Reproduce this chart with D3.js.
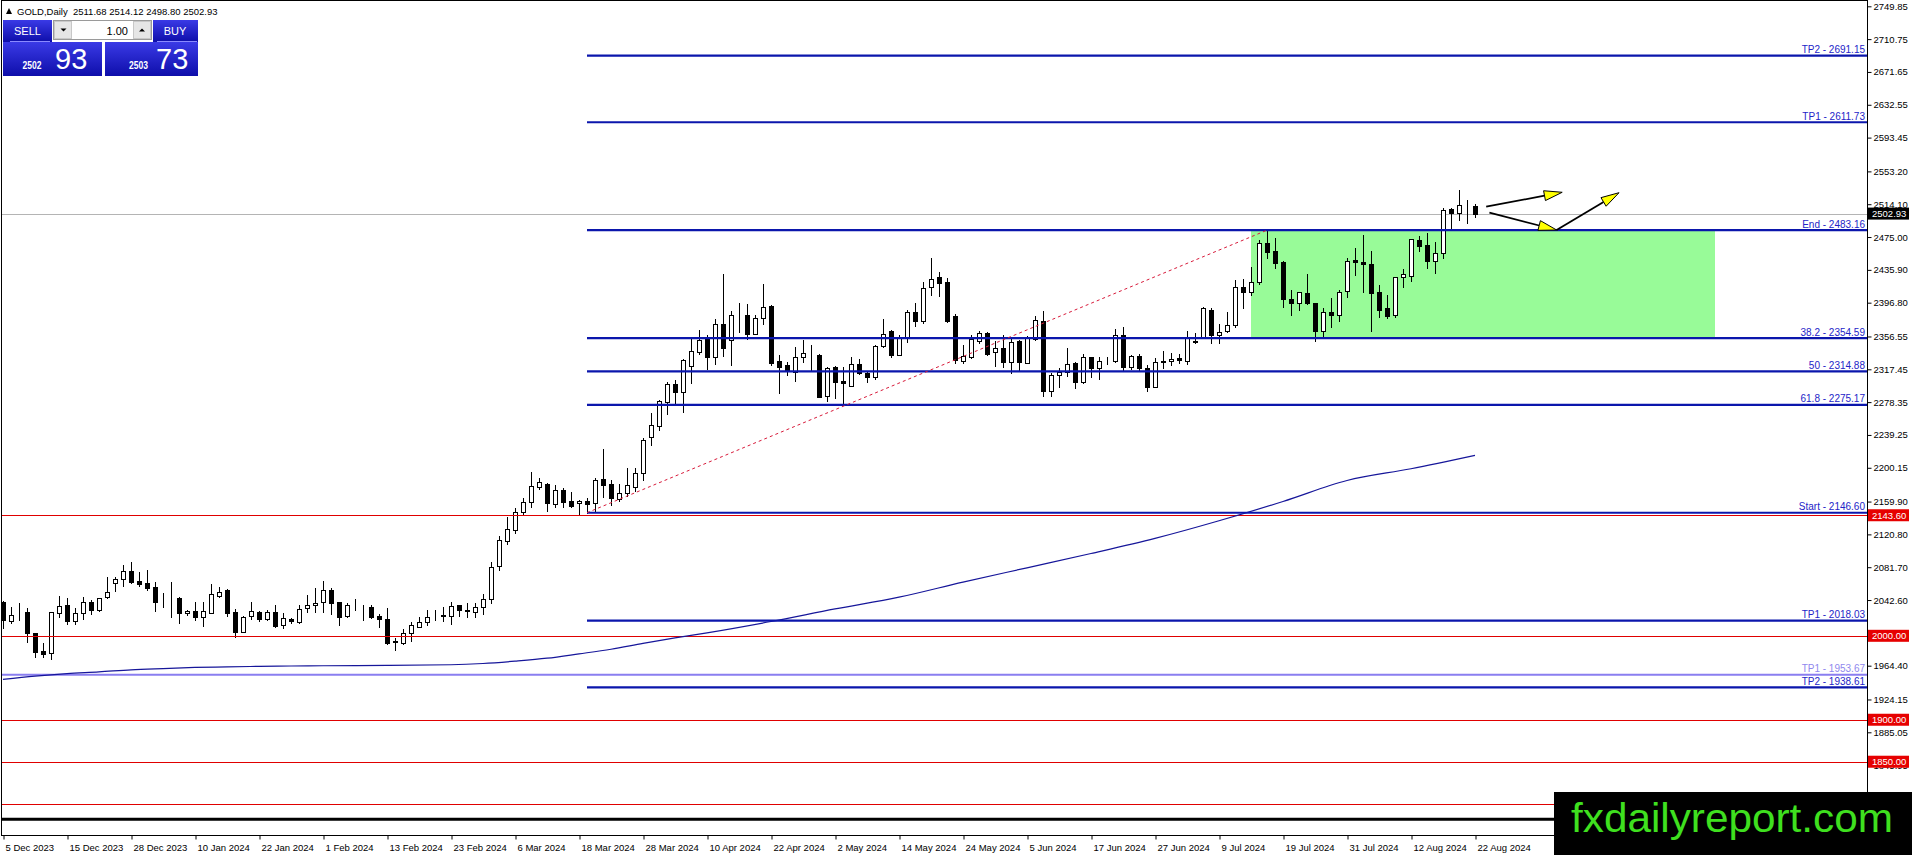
<!DOCTYPE html>
<html><head><meta charset="utf-8">
<script src="https://cdn.jsdelivr.net/npm/d3@7"></script>
<style>
html,body{margin:0;padding:0;background:#fff;overflow:hidden}
svg{display:block}
text{font-family:"Liberation Sans",Arial,sans-serif}
</style></head><body>
<svg id="c" width="1912" height="855"></svg>
<script>
// ---------- DATA ----------
const symbolTitle = "GOLD,Daily";
const headerOHLC = ["2511.68","2514.12","2498.80","2502.93"];
const opens = [2040.6,2017.6,2026.5,2027.9,2002.9,1981.9,1979.1,2026.7,2036.7,2018.0,2026.7,2039.8,2030.7,2045.8,2062.5,2067.2,2077.2,2065.3,2062.5,2058.5,
2041.8,2044.4,2044.6,2026.7,2029.5,2022.8,2027.5,2047.8,2054.5,2027.9,2004.9,2023.6,2027.9,2020.0,2028.7,2012.8,2019.6,2016.8,2032.7,2036.3,
2039.8,2054.5,2039.8,2023.9,2034.8,2034.8,2034.7,2023.9,2020.0,1993.4,1991.0,2002.9,2010.9,2016.8,2023.6,2024.2,2023.6,2036.7,2030.3,2028.7,
2034.7,2043.4,2083.5,2113.3,2126.0,2147.9,2159.0,2176.8,2180.8,2157.0,2173.7,2160.6,2157.8,2160.8,2157.8,2186.4,2180.8,2162.5,2170.5,2177.6,
2193.5,2237.2,2250.3,2278.9,2299.9,2290.0,2321.7,2337.6,2354.3,2332.5,2371.0,2352.3,2382.4,2382.1,2359.9,2378.1,2392.8,2327.3,2322.2,2313.8,
2331.7,2334.6,2334.5,2286.0,2319.8,2303.5,2297.9,2323.3,2312.6,2308.7,2345.2,2363.4,2334.5,2356.3,2386.1,2375.4,2415.9,2427.0,2421.0,2380.9,
2327.7,2331.7,2351.5,2360.3,2337.6,2342.4,2326.5,2351.5,2325.3,2353.1,2374.9,2291.9,2310.6,2314.6,2325.3,2302.7,2331.7,2318.6,2327.3,2327.7,
2358.3,2320.6,2333.7,2318.6,2296.7,2326.5,2327.7,2330.5,2327.7,2350.3,2356.3,2388.1,2358.3,2363.4,2370.2,2415.8,2409.9,2421.8,2468.3,2458.3,
2445.6,2401.2,2396.0,2407.9,2396.0,2363.4,2386.1,2382.1,2410.7,2447.6,2445.6,2442.9,2409.1,2390.0,2382.1,2427.0,2428.6,2471.4,2465.5,2446.8,
2455.6,2508.0,2503.2,2512.4,2511.68];
const highs = [2041.5,2034.7,2038.7,2032.7,2003.5,1991.0,2028.5,2047.4,2045.4,2032.7,2045.8,2042.6,2045.4,2070.4,2070.4,2084.3,2087.5,2075.6,2078.4,2064.5,
2050.6,2063.7,2046.6,2030.7,2040.6,2040.6,2061.7,2058.5,2055.3,2031.5,2023.2,2039.8,2029.5,2030.7,2036.7,2026.7,2020.8,2036.7,2048.6,2056.5,
2065.3,2056.5,2040.6,2038.6,2043.8,2036.7,2036.7,2025.9,2033.5,1996.9,2008.1,2016.8,2022.8,2030.7,2030.7,2034.7,2040.6,2037.0,2039.4,2039.4,
2049.4,2088.3,2118.9,2141.9,2152.6,2163.7,2195.5,2187.6,2181.6,2179.6,2175.7,2171.7,2161.8,2163.7,2187.6,2222.5,2185.6,2180.8,2199.5,2199.5,
2235.2,2264.9,2280.9,2302.7,2304.7,2329.7,2354.3,2364.2,2358.3,2376.9,2430.9,2387.3,2396.8,2395.2,2382.1,2418.6,2394.0,2334.5,2326.5,2343.6,
2352.3,2346.4,2335.3,2320.6,2321.4,2320.6,2332.5,2329.3,2314.6,2346.4,2377.3,2364.2,2358.3,2388.1,2396.8,2421.8,2450.4,2432.9,2425.8,2383.3,
2346.4,2358.3,2363.4,2361.9,2351.5,2358.3,2354.3,2352.3,2357.1,2380.9,2387.3,2313.4,2318.6,2342.4,2326.5,2335.6,2332.5,2332.5,2331.7,2365.0,
2367.4,2334.5,2335.6,2322.5,2330.5,2339.4,2337.2,2335.6,2363.4,2360.3,2392.0,2390.8,2371.0,2385.3,2423.8,2424.6,2438.9,2471.4,2483.4,2473.4,
2446.0,2411.9,2409.9,2430.5,2396.8,2390.0,2401.9,2411.9,2449.6,2461.5,2477.4,2458.3,2417.8,2405.9,2427.8,2436.5,2472.6,2476.2,2480.2,2468.7,
2509.2,2509.2,2531.0,2519.1,2514.12];
const lows = [2008.9,2015.6,2018.8,1993.0,1975.1,1975.1,1972.3,2022.8,2014.0,2014.0,2020.0,2025.9,2029.9,2045.4,2053.7,2059.7,2063.0,2059.3,2054.5,2029.9,
2034.7,2022.8,2015.6,2025.2,2018.8,2011.6,2027.0,2045.8,2023.6,1998.1,2004.1,2019.6,2018.0,2018.8,2010.0,2008.9,2014.8,2015.8,2028.7,2028.7,
2028.7,2025.9,2012.8,2022.0,2030.7,2018.8,2020.8,2010.9,1990.2,1983.0,1990.2,1994.2,2010.5,2012.8,2018.8,2018.0,2014.0,2024.0,2022.8,2022.8,
2025.9,2038.6,2078.4,2109.3,2122.0,2143.9,2153.0,2174.9,2149.0,2153.0,2153.8,2153.0,2143.9,2146.6,2147.8,2164.9,2155.8,2160.9,2166.5,2172.5,
2185.6,2227.2,2245.1,2264.2,2277.7,2266.9,2301.5,2335.6,2317.4,2323.7,2333.3,2322.5,2362.3,2353.1,2359.5,2371.4,2322.5,2289.6,2310.6,2303.9,
2326.5,2316.6,2284.0,2280.1,2283.6,2276.1,2297.5,2311.4,2302.7,2305.5,2344.4,2331.7,2334.1,2350.3,2369.0,2373.0,2405.9,2405.1,2374.2,2325.3,
2324.5,2331.3,2348.4,2334.5,2321.4,2319.8,2313.4,2316.6,2324.5,2352.3,2286.0,2286.0,2296.7,2309.8,2294.7,2300.7,2308.6,2305.5,2323.7,2326.5,
2315.8,2317.4,2316.6,2292.0,2296.3,2318.6,2322.5,2324.5,2323.7,2348.4,2354.3,2349.1,2348.4,2362.2,2368.2,2390.0,2405.9,2418.6,2450.4,2438.5,
2392.0,2382.1,2388.1,2395.2,2351.5,2356.3,2368.2,2375.4,2403.1,2429.8,2409.9,2363.4,2380.1,2378.1,2380.1,2415.8,2423.0,2458.3,2437.7,2431.7,
2449.6,2484.2,2495.3,2492.1,2498.80];
const closes = [2018.8,2024.8,2026.0,2002.9,1981.1,1978.3,2027.9,2035.5,2018.0,2027.5,2039.8,2030.7,2044.6,2051.8,2067.2,2077.2,2063.7,2061.3,2056.5,2040.6,
2041.0,2044.0,2026.7,2029.5,2022.8,2029.5,2049.8,2052.5,2027.5,2004.1,2022.8,2029.1,2020.0,2028.3,2011.6,2020.8,2017.2,2031.5,2036.7,2039.4,
2054.5,2038.6,2022.8,2036.7,2034.4,2034.2,2022.8,2019.6,1991.8,1993.0,2002.9,2012.8,2016.8,2022.4,2024.0,2023.8,2035.5,2030.7,2029.9,2033.9,
2043.8,2081.5,2114.1,2126.8,2147.1,2159.8,2178.8,2182.8,2157.8,2173.7,2159.8,2155.0,2160.6,2156.6,2185.6,2179.6,2164.5,2169.7,2179.6,2193.5,
2233.2,2251.1,2280.0,2299.9,2290.0,2328.5,2339.6,2352.3,2332.5,2371.4,2343.2,2382.1,2382.0,2359.5,2378.1,2391.2,2325.3,2320.6,2316.6,2331.7,
2336.4,2334.4,2284.8,2318.6,2302.7,2300.7,2323.3,2312.6,2307.9,2345.2,2359.1,2334.5,2356.3,2386.1,2375.4,2413.9,2424.6,2419.8,2375.4,2328.5,
2333.3,2353.1,2360.3,2335.6,2342.4,2326.5,2350.3,2326.5,2355.5,2376.1,2291.9,2310.6,2314.6,2323.7,2302.7,2331.7,2318.6,2327.7,2327.7,2358.3,
2320.6,2333.7,2318.6,2296.7,2326.5,2326.9,2329.9,2328.5,2354.3,2350.7,2390.0,2358.3,2362.2,2370.2,2415.8,2409.9,2421.8,2468.3,2457.6,2444.4,
2400.8,2396.0,2409.1,2396.8,2363.4,2386.1,2382.1,2409.9,2446.4,2444.8,2442.8,2408.7,2388.1,2380.9,2427.0,2430.5,2472.2,2464.3,2446.8,2455.6,
2507.2,2503.2,2513.2,2512.0,2502.93];

// moving average readings (bar index, value)
const maIndex  = [0,4,8,12,16,20,24,28,32,36,40,48,56,60,64,68,72,76,80,84,88,96,104,112,120,128,136,144,152,160,168,176,184];
const maValues = [1948,1952,1955,1957,1959.5,1961,1962.3,1963,1963.6,1964,1964.3,1964.8,1965.5,1967,1969.8,1973.3,1978.5,1984,1991,1997.5,2003.5,2017,2032,2046,2064,2081,2098,2116,2137,2160,2185,2199,2215];

const xTickLabels = ["5 Dec 2023","15 Dec 2023","28 Dec 2023","10 Jan 2024","22 Jan 2024","1 Feb 2024","13 Feb 2024","23 Feb 2024","6 Mar 2024","18 Mar 2024","28 Mar 2024","10 Apr 2024","22 Apr 2024","2 May 2024","14 May 2024","24 May 2024","5 Jun 2024","17 Jun 2024","27 Jun 2024","9 Jul 2024","19 Jul 2024","31 Jul 2024","12 Aug 2024","22 Aug 2024"];
const yTickValues = [2749.85,2710.75,2671.65,2632.55,2593.45,2553.20,2514.10,2475.00,2435.90,2396.80,2356.55,2317.45,2278.35,2239.25,2200.15,2159.90,2120.80,2081.70,2042.60,1964.40,1924.15,1885.05,1845.95];

const fiboNames  = ["TP2","TP1","End","38.2","50","61.8","Start","TP1","TP2"];
const fiboValues = [2691.15,2611.73,2483.16,2354.59,2314.88,2275.17,2146.60,2018.03,1938.61];
const fiboStartBar = 73;
const extraFiboName = "TP1", extraFiboValue = 1953.67;
const redLevels = [2143.60,2000.00,1900.00,1850.00,1800.00];
const blackLevel = 1781.4;
const currentPrice = 2502.93;
const zoneBars = [156,214], zonePrices = [2483.16,2354.59];
const trendBars = [73,158], trendPrices = [2146.60,2483.16];
// arrows: [fromBar, fromPrice, toBar, toPrice]
const arrowFromBar = [185.4,185.8,194.2], arrowFromPrice = [2511.1,2504.0,2483.4];
const arrowToBar   = [194.9,194.2,202.0], arrowToPrice   = [2528.3,2483.4,2527.8];
const sellPrice = ["2502","93"], buyPrice = ["2503","73"], lotSize = "1.00";
const watermark = "fxdailyreport.com";

// ---------- SCALES ----------
const svg = d3.select("#c");
const plotL = 1, plotR = 1867, plotT = 1, plotB = 835;
const x = d3.scaleLinear().domain([0,184]).range([3,1475]);
const y = d3.scaleLinear().domain([2749.85,1885.05]).range([6.3,732.3]);
const ry = v => Math.round(y(v)) + 0.5;

svg.append("rect").attr("width",1912).attr("height",855).attr("fill","#fff");
svg.append("defs").append("clipPath").attr("id","plot")
  .append("rect").attr("x",plotL).attr("y",plotT).attr("width",plotR-plotL).attr("height",plotB-plotT);
const g = svg.append("g").attr("clip-path","url(#plot)");

// green zone
g.append("rect")
  .attr("x",Math.round(x(zoneBars[0]))).attr("y",y(zonePrices[0]))
  .attr("width",x(zoneBars[1])-x(zoneBars[0])).attr("height",y(zonePrices[1])-y(zonePrices[0]))
  .attr("fill","#98fb98");

// current price line
g.append("line").attr("x1",plotL).attr("x2",plotR).attr("y1",ry(currentPrice)).attr("y2",ry(currentPrice))
  .attr("stroke","#b4b4b4").attr("stroke-width",1);

// candles
const bars = d3.range(opens.length);
const cg = g.append("g");
cg.selectAll("line.w").data(bars).join("line").attr("class","w")
  .attr("x1",i=>Math.round(x(i))+0.5).attr("x2",i=>Math.round(x(i))+0.5)
  .attr("y1",i=>Math.round(y(highs[i]))).attr("y2",i=>Math.round(y(lows[i]))+1)
  .attr("stroke","#000").attr("stroke-width",1);
cg.selectAll("rect.b").data(bars).join("rect").attr("class","b")
  .attr("x",i=>Math.round(x(i))-1.5).attr("width",4)
  .attr("y",i=>Math.round(y(Math.max(opens[i],closes[i])))+0.5)
  .attr("height",i=>Math.max(0,Math.round(y(Math.min(opens[i],closes[i])))-Math.round(y(Math.max(opens[i],closes[i])))))
  .attr("fill",i=>closes[i]>=opens[i]?"#fff":"#000")
  .attr("stroke","#000").attr("stroke-width",1);

// red levels
g.selectAll("line.red").data(redLevels).join("line").attr("class","red")
  .attr("x1",plotL).attr("x2",plotR).attr("y1",d=>ry(d)).attr("y2",d=>ry(d))
  .attr("stroke","#e00000").attr("stroke-width",1);

// black level
g.append("line").attr("x1",plotL).attr("x2",plotR).attr("y1",y(blackLevel)).attr("y2",y(blackLevel))
  .attr("stroke","#000").attr("stroke-width",3);

// extra lavender level
g.append("line").attr("x1",plotL).attr("x2",plotR).attr("y1",y(extraFiboValue)).attr("y2",y(extraFiboValue))
  .attr("stroke","#8a7ef0").attr("stroke-width",2);
g.append("text").attr("x",plotR-2).attr("y",y(extraFiboValue)-2.5).attr("text-anchor","end")
  .attr("font-size",10).attr("fill","#9088ee").text(extraFiboName+" - "+extraFiboValue.toFixed(2));

// moving average
g.append("path").datum(maIndex.map((d,k)=>[d,maValues[k]]))
  .attr("d",d3.line().x(d=>x(d[0])).y(d=>y(d[1])).curve(d3.curveMonotoneX))
  .attr("fill","none").attr("stroke","#16169a").attr("stroke-width",1.2);

// fibo lines
const fx0 = Math.round(x(fiboStartBar));
g.selectAll("line.fibo").data(fiboValues).join("line").attr("class","fibo")
  .attr("x1",fx0).attr("x2",plotR).attr("y1",d=>y(d)).attr("y2",d=>y(d))
  .attr("stroke","#0b16ac").attr("stroke-width",2.2);
g.selectAll("text.fibo").data(fiboValues).join("text").attr("class","fibo")
  .attr("x",plotR-2).attr("y",d=>y(d)-2.5).attr("text-anchor","end")
  .attr("font-size",10).attr("fill","#2424c8")
  .text((d,k)=>fiboNames[k]+" - "+d.toFixed(2));

// trend (dotted)
g.append("line")
  .attr("x1",x(trendBars[0])).attr("y1",y(trendPrices[0]))
  .attr("x2",x(trendBars[1])).attr("y2",y(trendPrices[1]))
  .attr("stroke","#d81a3a").attr("stroke-width",1).attr("stroke-dasharray","3,3");

// arrows
arrowFromBar.forEach((b,k)=>{
  const x1=x(b), y1=y(arrowFromPrice[k]), x2=x(arrowToBar[k]), y2=y(arrowToPrice[k]);
  const a=Math.atan2(y2-y1,x2-x1), L=18, hw=5;
  const bx=x2-L*Math.cos(a), by=y2-L*Math.sin(a);
  g.append("line").attr("x1",x1).attr("y1",y1).attr("x2",bx).attr("y2",by)
    .attr("stroke","#000").attr("stroke-width",1.8);
  const pts=[[x2,y2],[bx+hw*Math.sin(a),by-hw*Math.cos(a)],[bx-hw*Math.sin(a),by+hw*Math.cos(a)]];
  g.append("polygon").attr("points",pts.map(p=>p.join(",")).join(" "))
    .attr("fill","#ffff00").attr("stroke","#000").attr("stroke-width",1);
});

// frame
svg.append("rect").attr("x",plotL+0.5).attr("y",plotT-0.5).attr("width",plotR-plotL).attr("height",plotB-plotT+1)
  .attr("fill","none").attr("stroke","#000").attr("stroke-width",1);

// y axis
const yAx = svg.append("g").attr("transform",`translate(${plotR+0.5},0)`)
  .call(d3.axisRight(y).tickValues(yTickValues).tickFormat(d3.format(".2f")).tickSize(4).tickPadding(2));
yAx.select(".domain").remove();
yAx.selectAll("text").attr("font-size",9.5).attr("font-family","'Liberation Sans',Arial,sans-serif").attr("fill","#000");
yAx.selectAll("line").attr("stroke","#000");

// x axis
const xAx = svg.append("g").attr("transform",`translate(0,${plotB+0.5})`)
  .call(d3.axisBottom(x).tickValues(xTickLabels.map((d,k)=>k*8)).tickFormat((d,k)=>xTickLabels[k]).tickSize(4).tickPadding(2));
xAx.select(".domain").remove();
xAx.selectAll(".tick line").attr("transform","translate(0.5,0)").attr("stroke","#000");
xAx.selectAll("text").attr("text-anchor","start").attr("dx",2).attr("y",8).attr("dy","0.8em")
  .attr("font-size",9.5).attr("font-family","'Liberation Sans',Arial,sans-serif").attr("fill","#000");

// badges
function badge(v,bg){
  const cy=y(v);
  svg.append("rect").attr("x",plotR+1).attr("y",cy-6).attr("width",41).attr("height",12).attr("fill",bg);
  svg.append("text").attr("x",plotR+5).attr("y",cy+3.5).attr("font-size",9.5).attr("fill","#fff").text(v.toFixed(2));
}
redLevels.forEach(v=>badge(v,"#e60000"));
badge(currentPrice,"#000");

// header
svg.append("path").attr("d","M6,14 L12,14 L9,8 Z").attr("fill","#000");
svg.append("text").attr("x",17).attr("y",14.5).attr("font-size",9.5).attr("fill","#000")
  .attr("xml:space","preserve").text(symbolTitle+"  "+headerOHLC.join(" "));

// trade panel
const defs = svg.select("defs");
const grad = defs.append("linearGradient").attr("id","bl").attr("x1",0).attr("y1",0).attr("x2",0).attr("y2",1);
grad.append("stop").attr("offset","0%").attr("stop-color","#3a3ae6");
grad.append("stop").attr("offset","100%").attr("stop-color","#0e0eaa");
const panel = svg.append("g");
panel.append("rect").attr("x",3).attr("y",20).attr("width",49).attr("height",22).attr("fill","url(#bl)");
panel.append("rect").attr("x",153).attr("y",20).attr("width",45).attr("height",22).attr("fill","url(#bl)");
panel.append("rect").attr("x",3).attr("y",42).attr("width",99).attr("height",34).attr("fill","url(#bl)");
panel.append("rect").attr("x",105).attr("y",42).attr("width",93).attr("height",34).attr("fill","url(#bl)");
panel.append("line").attr("x1",10).attr("x2",50).attr("y1",41.5).attr("y2",41.5).attr("stroke","#8a8aff");
panel.append("line").attr("x1",157).attr("x2",197).attr("y1",41.5).attr("y2",41.5).attr("stroke","#8a8aff");
panel.append("rect").attr("x",53.5).attr("y",20.5).attr("width",98).attr("height",19).attr("fill","#fff").attr("stroke","#9a9a9a");
panel.append("rect").attr("x",54.5).attr("y",21.5).attr("width",17).attr("height",17).attr("fill","#e6e6e6").attr("stroke","#c8c8c8");
panel.append("rect").attr("x",133.5).attr("y",21.5).attr("width",17).attr("height",17).attr("fill","#e6e6e6").attr("stroke","#c8c8c8");
panel.append("path").attr("d","M60.5,28.5 L66.5,28.5 L63.5,31.5 Z").attr("fill","#000");
panel.append("path").attr("d","M139,31.5 L145,31.5 L142,28.5 Z").attr("fill","#000");
panel.append("text").attr("x",128).attr("y",34.5).attr("text-anchor","end").attr("font-size",11).attr("fill","#000").text(lotSize);
panel.append("text").attr("x",27.5).attr("y",35).attr("text-anchor","middle").attr("font-size",11).attr("fill","#fff").text("SELL");
panel.append("text").attr("x",175).attr("y",35).attr("text-anchor","middle").attr("font-size",11).attr("fill","#fff").text("BUY");
panel.append("text").attr("x",22.5).attr("y",69.3).attr("font-size",10.5).attr("font-weight","bold").attr("textLength",19).attr("lengthAdjust","spacingAndGlyphs").attr("fill","#fff").text(sellPrice[0]);
panel.append("text").attr("x",55).attr("y",69.3).attr("font-size",29).attr("fill","#fff").text(sellPrice[1]);
panel.append("text").attr("x",129).attr("y",69.3).attr("font-size",10.5).attr("font-weight","bold").attr("textLength",19).attr("lengthAdjust","spacingAndGlyphs").attr("fill","#fff").text(buyPrice[0]);
panel.append("text").attr("x",156).attr("y",69.3).attr("font-size",29).attr("fill","#fff").text(buyPrice[1]);

// watermark
svg.append("rect").attr("x",1554).attr("y",792).attr("width",358).attr("height",63).attr("fill","#000");
svg.append("text").attr("x",1571).attr("y",831.5).attr("font-size",40).attr("fill","#3fe01f")
  .attr("textLength",322).attr("lengthAdjust","spacingAndGlyphs").text(watermark);
</script>
</body></html>
